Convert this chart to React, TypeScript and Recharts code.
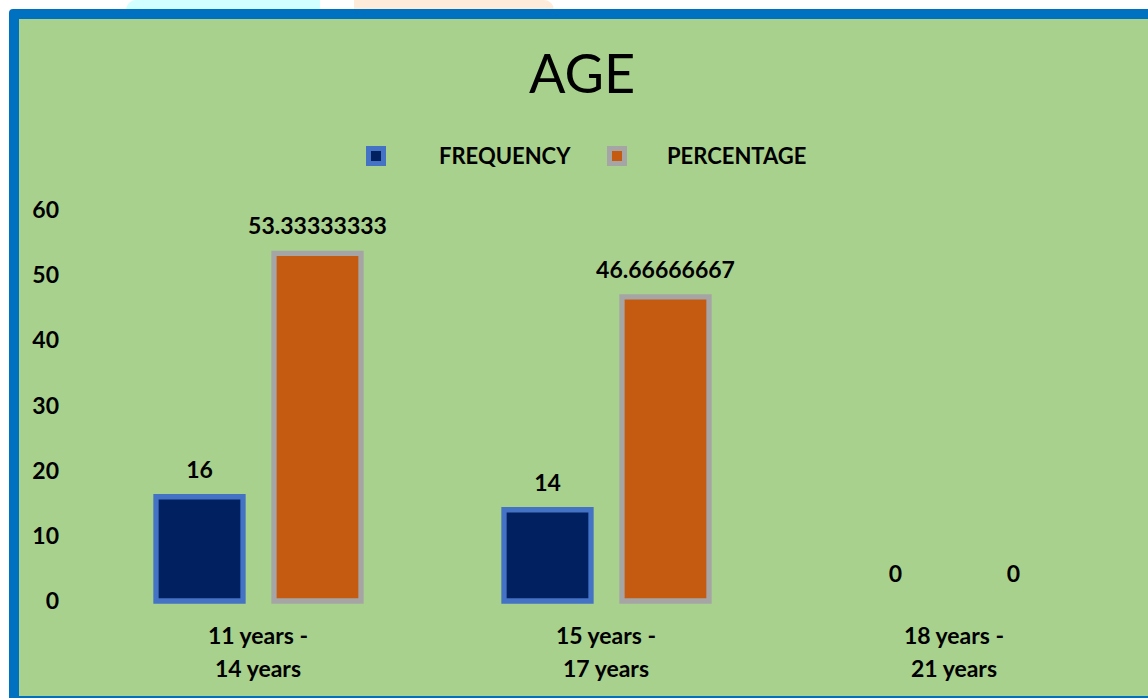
import React from "react";
import { BarChart, Bar, XAxis, YAxis, LabelList, Rectangle } from "recharts";

const ageGroups = ["11 years - 14 years", "15 years - 17 years", "18 years - 21 years"];
const frequency = [16, 14, 0];
const percentage = [53.33333333, 46.66666667, 0];
const yTicks = [0, 10, 20, 30, 40, 50, 60];

const series = [
  { key: "frequency", name: "FREQUENCY", fill: "#002060", stroke: "#4472C4" },
  { key: "percentage", name: "PERCENTAGE", fill: "#C55A11", stroke: "#A5A5A5" },
];

const data = ageGroups.map((g, i) => ({
  group: g,
  frequency: frequency[i],
  percentage: percentage[i],
}));

const FONT = "Lato, 'DejaVu Sans', sans-serif";

const AgeTick = (props: any) => {
  const { x, y, payload } = props;
  const parts = String(payload.value).split(" - ");
  return (
    <g>
      <text x={x} y={y + 43} textAnchor="middle" fontFamily={FONT} fontWeight={700} fontSize={23} fill="#000">
        {parts[0] + " -"}
      </text>
      <text x={x} y={y + 76} textAnchor="middle" fontFamily={FONT} fontWeight={700} fontSize={23} fill="#000">
        {parts[1]}
      </text>
    </g>
  );
};

// zero bars get a tiny min height so their "0" label still shows, but draw nothing
const BarShape = (props: any) => (props.height < 1 ? <g /> : <Rectangle {...props} />);

// legend positions
const legendPos = [
  { marker: 366, text: 439 },
  { marker: 607, text: 667 },
];

export default function App() {
  return (
    <div
      style={{
        position: "fixed",
        left: 0,
        top: 0,
        width: 1148,
        height: 698,
        overflow: "hidden",
        background: "#fff",
        fontFamily: FONT,
      }}
    >
      {/* faint shapes behind the frame */}
      <div style={{ position: "absolute", left: 126, top: 0, width: 194, height: 14, background: "#D2FFFF", borderTopLeftRadius: 10 }} />
      <div style={{ position: "absolute", left: 354, top: 0, width: 200, height: 14, background: "#FFEBDA", borderTopRightRadius: 10 }} />
      <div
        style={{
          position: "absolute",
          left: 9,
          top: 9,
          width: 1170,
          height: 697,
          boxSizing: "border-box",
          border: "10px solid #0070C0",
          borderRadius: 4,
          background: "#A9D18E",
        }}
      />
      <div
        style={{
          position: "absolute",
          left: 0,
          top: 46,
          width: 1164,
          textAlign: "center",
          fontSize: 54,
          lineHeight: 1,
          color: "#000",
        }}
      >
        AGE
      </div>
      {series.map((s, i) => (
        <React.Fragment key={s.key}>
          <div
            style={{
              position: "absolute",
              left: legendPos[i].marker,
              top: 146,
              width: 20,
              height: 20,
              boxSizing: "border-box",
              border: `5px solid ${s.stroke}`,
              background: s.fill,
            }}
          />
          <div
            style={{
              position: "absolute",
              left: legendPos[i].text,
              top: 145,
              fontSize: 22,
              fontWeight: 700,
              lineHeight: 1,
              color: "#000",
            }}
          >
            {s.name}
          </div>
        </React.Fragment>
      ))}
      <div style={{ position: "absolute", left: 0, top: 0 }}>
        <BarChart
          width={1148}
          height={698}
          data={data}
          margin={{ top: 210, right: 20, bottom: 37, left: 24 }}
          barSize={87}
          barGap={31}
        >
          <XAxis
            dataKey="group"
            axisLine={false}
            tickLine={false}
            tickSize={0}
            tickMargin={0}
            height={60}
            interval={0}
            tick={<AgeTick />}
          />
          <YAxis
            domain={[0, 60]}
            ticks={yTicks}
            axisLine={false}
            tickLine={false}
            tickSize={0}
            tickMargin={25}
            width={60}
            tick={{ fontFamily: FONT, fontWeight: 700, fontSize: 23, fill: "#000" }}
          />
          {series.map((s) => (
            <Bar
              key={s.key}
              dataKey={s.key}
              name={s.name}
              fill={s.fill}
              stroke={s.stroke}
              strokeWidth={5.3}
              minPointSize={0.01}
              shape={BarShape}
              isAnimationActive={false}
            >
              <LabelList
                dataKey={s.key}
                position="top"
                offset={19}
                fill="#000"
                fontFamily={FONT}
                fontWeight={700}
                fontSize={23}
              />
            </Bar>
          ))}
        </BarChart>
      </div>
    </div>
  );
}
